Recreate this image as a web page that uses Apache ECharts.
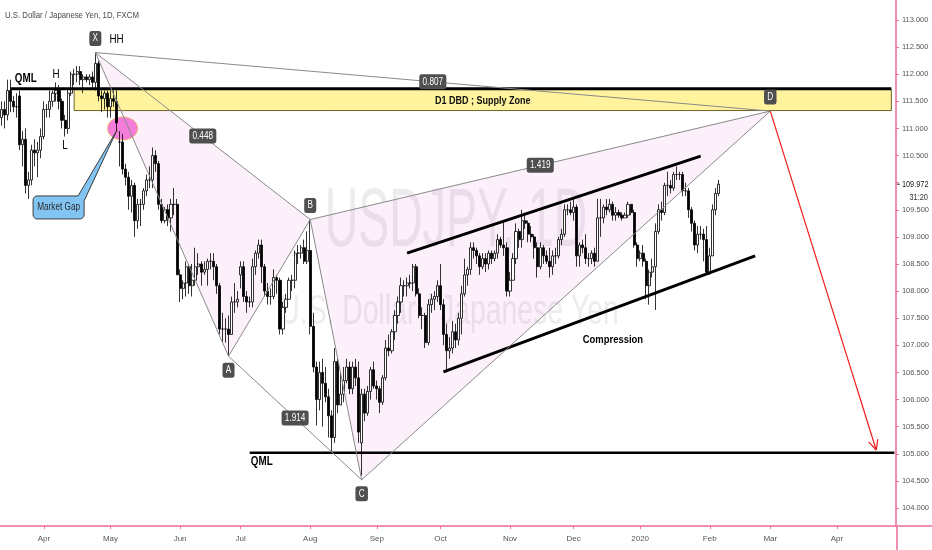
<!DOCTYPE html>
<html><head><meta charset="utf-8">
<title>USDJPY 1D - D1 DBD Supply Zone</title>
<script src="https://cdn.jsdelivr.net/npm/echarts@6/dist/echarts.min.js"></script>
<style>
  html, body { margin: 0; padding: 0; background: #fff; }
  #chart { width: 932px; height: 550px; }
</style>
</head>
<body>
<div id="chart"></div>
<script>
var FONT = "'Liberation Sans', Arial, sans-serif";
var PINK = '#ee6a9c';
var SQUEEZE = 0.82; // the screenshot text is condensed

// trading days start here, the axis runs on into the future
var firstDay = '2019-03-12';
var dayCount = 296;
var monthNames = ['Jan','Feb','Mar','Apr','May','Jun','Jul','Aug','Sep','Oct','Nov','Dec'];

// daily candles [open, close, low, high], one per weekday from firstDay
var candles = [
  [111.20,111.35,111.05,111.50],[111.35,111.25,111.00,111.50],[111.25,111.70,111.15,111.90],[111.70,111.50,111.30,111.90],
  [111.50,111.40,111.30,111.60],[111.40,111.40,111.20,111.65],[111.60,110.70,110.60,111.70],[110.70,110.80,110.30,110.95],
  [110.80,109.95,109.80,111.00],[109.95,110.05,109.70,110.20],[110.05,110.60,109.95,110.70],[110.60,110.55,110.30,110.80],
  [110.55,110.60,110.10,110.75],[110.60,110.85,110.45,111.00],
  // Apr
  [110.85,111.35,110.80,111.50],[111.35,111.35,111.20,111.45],[111.35,111.50,111.20,111.70],[111.50,111.65,111.40,111.70],
  [111.65,111.70,111.50,111.85],[111.70,111.50,111.35,111.80],[111.50,111.15,111.00,111.55],[111.15,111.00,110.85,111.25],
  [111.00,111.65,110.90,111.75],[111.65,112.00,111.60,112.05],[112.00,112.00,111.80,112.10],[112.00,112.05,111.85,112.15],
  [112.05,111.90,111.80,112.15],[111.90,111.95,111.65,112.00],[111.95,111.90,111.85,112.00],[111.90,111.95,111.80,112.00],
  [111.95,111.85,111.75,112.05],[111.85,112.20,111.70,112.40],[112.20,111.60,111.50,112.25],[111.60,111.55,111.30,111.70],
  [111.55,111.65,111.35,111.70],[111.65,111.40,111.20,111.70],
  // May
  [111.40,111.55,111.20,111.70],[111.55,111.50,111.40,111.70],[111.50,111.10,110.95,111.70],[110.75,110.75,110.30,110.95],
  [110.75,110.25,110.15,110.90],[110.25,110.10,109.95,110.35],[110.10,109.75,109.50,110.20],[109.75,109.95,109.45,110.05],
  [109.95,109.30,109.00,110.00],[109.30,109.60,109.15,109.70],[109.60,109.60,109.20,109.70],[109.60,109.85,109.50,109.90],
  [109.85,110.05,109.75,110.15],[110.05,110.05,109.90,110.30],[110.05,110.50,109.90,110.65],[110.50,110.35,110.20,110.60],
  [110.35,109.60,109.50,110.40],[109.60,109.30,109.25,109.70],[109.30,109.50,109.25,109.55],[109.50,109.35,109.20,109.60],
  [109.35,109.60,109.10,109.70],[109.60,109.60,109.40,109.90],[109.60,108.30,108.30,109.70],
  // Jun
  [108.30,108.05,107.80,108.40],[108.05,108.15,107.85,108.20],[108.15,108.45,107.90,108.55],[108.45,108.10,107.95,108.50],
  [108.10,108.20,107.90,108.50],[108.20,108.45,108.10,108.80],[108.45,108.50,108.30,108.70],[108.50,108.35,108.10,108.55],
  [108.35,108.40,108.30,108.55],[108.40,108.55,108.10,108.60],[108.55,108.55,108.40,108.70],[108.55,108.45,108.20,108.70],
  [108.45,108.10,107.95,108.50],[108.10,107.30,107.20,108.15],[107.30,107.30,107.05,107.60],[107.30,107.30,107.05,107.50],
  [107.30,107.20,106.80,107.55],[107.20,107.80,107.20,107.90],[107.80,107.80,107.60,108.15],[107.80,107.85,107.70,108.00],
  // Jul
  [108.30,108.45,108.05,108.55],[108.45,107.90,107.80,108.55],[107.90,107.80,107.60,108.00],[107.80,107.80,107.70,107.90],
  [107.80,108.45,107.70,108.60],[108.45,108.70,108.30,108.75],[108.70,108.85,108.60,108.95],[108.85,108.45,108.15,108.95],
  [108.45,108.00,107.90,108.50],[108.00,107.90,107.75,108.15],[107.90,107.90,107.75,108.05],[107.90,108.25,107.85,108.40],
  [108.25,108.20,107.95,108.30],[108.20,107.30,107.20,108.25],[107.30,107.70,107.20,107.80],[107.70,107.85,107.60,107.95],
  [107.85,108.20,107.85,108.25],[108.20,108.20,108.00,108.30],[108.20,108.70,108.05,108.75],[108.70,108.70,108.50,108.85],
  [108.70,108.80,108.60,108.85],[108.80,108.55,108.50,108.95],[108.55,108.75,108.50,109.10],
  // Aug
  [108.75,107.35,107.20,109.32],[107.35,106.60,106.50,107.60],[106.60,106.00,105.52,106.70],[106.00,106.50,105.80,106.70],
  [106.50,106.30,105.50,106.75],[106.30,106.05,105.95,106.60],[106.05,105.70,105.30,106.20],[105.70,105.30,105.05,105.80],
  [105.30,106.70,105.20,106.95],[106.70,105.90,105.75,106.75],[105.90,106.10,105.90,106.50],[106.10,106.35,105.95,106.60],
  [106.35,106.60,106.30,106.75],[106.60,106.20,106.10,106.70],[106.20,106.60,106.10,106.70],[106.60,106.40,106.25,106.75],
  [106.40,105.40,105.20,106.70],[105.20,106.10,104.60,106.20],[106.10,105.75,105.60,106.20],[105.75,106.15,105.70,106.25],
  [106.15,106.55,106.00,106.60],[106.55,106.25,106.20,106.70],
  // Sep
  [106.25,106.20,106.00,106.35],[106.20,105.95,105.75,106.25],[105.95,106.40,105.90,106.45],[106.40,106.95,106.35,107.10],
  [106.95,106.90,106.80,107.20],[106.90,107.25,106.85,107.30],[107.25,107.55,107.10,107.65],[107.55,107.80,107.40,107.90],
  [107.80,108.10,107.60,108.25],[108.10,108.10,107.90,108.20],[108.10,108.15,107.90,108.25],[108.15,108.15,108.05,108.30],
  [108.15,108.45,108.00,108.50],[108.45,107.95,107.90,108.50],[107.95,107.55,107.50,108.05],[107.55,107.55,107.30,107.70],
  [107.55,107.05,106.95,107.60],[107.05,107.75,107.00,107.85],[107.75,107.85,107.60,107.95],[107.85,107.90,107.65,108.00],
  [107.90,108.10,107.80,108.20],
  // Oct
  [108.10,107.75,107.65,108.50],[107.75,107.20,107.00,107.85],[107.20,106.90,106.50,107.40],[106.90,106.95,106.75,107.15],
  [106.95,107.25,106.85,107.45],[107.25,107.10,106.95,107.40],[107.10,107.50,107.00,107.60],[107.50,107.95,107.20,108.10],
  [107.95,108.30,107.90,108.60],[108.30,108.40,108.10,108.45],[108.40,108.80,108.30,108.90],[108.80,108.75,108.60,108.90],
  [108.75,108.65,108.50,108.80],[108.65,108.45,108.30,108.70],[108.45,108.60,108.40,108.70],[108.60,108.50,108.35,108.70],
  [108.50,108.70,108.40,108.75],[108.70,108.60,108.50,108.75],[108.60,108.70,108.55,108.75],[108.70,108.95,108.60,109.05],
  [108.95,108.85,108.80,109.00],[108.85,108.80,108.65,109.30],[108.80,108.00,107.90,108.90],
  // Nov
  [108.00,108.20,107.90,108.35],[108.20,108.60,108.20,108.70],[108.60,109.10,108.50,109.25],[109.10,108.95,108.80,109.15],
  [108.95,109.30,108.80,109.50],[109.30,109.25,109.15,109.45],[109.25,109.05,108.90,109.30],[109.05,109.00,108.90,109.20],
  [109.00,108.80,108.60,109.05],[108.80,108.45,108.25,108.90],[108.45,108.80,108.40,108.90],[108.80,108.65,108.50,108.85],
  [108.65,108.55,108.50,108.75],[108.55,108.45,108.25,108.80],[108.45,108.65,108.30,108.75],[108.65,108.65,108.50,108.80],
  [108.65,108.95,108.60,109.00],[108.95,109.05,108.85,109.15],[109.05,109.50,109.00,109.60],[109.50,109.50,109.40,109.60],
  [109.50,109.45,109.40,109.65],
  // Dec
  [109.45,109.55,109.30,109.70],[109.55,108.65,108.45,109.60],[108.65,108.85,108.45,108.90],[108.85,108.80,108.70,108.95],
  [108.80,108.60,108.50,109.05],[108.60,108.60,108.45,108.70],[108.60,108.70,108.50,108.75],[108.70,108.55,108.45,108.80],
  [108.55,109.35,108.55,109.70],[109.35,109.35,109.00,109.70],[109.35,109.55,109.25,109.60],[109.55,109.50,109.40,109.70],
  [109.50,109.60,109.45,109.70],[109.60,109.40,109.30,109.65],[109.40,109.45,109.30,109.55],[109.45,109.40,109.35,109.50],
  [109.40,109.35,109.30,109.45],[109.35,109.40,109.35,109.45],[109.40,109.60,109.35,109.65],[109.60,109.45,109.40,109.60],
  [109.45,108.85,108.80,109.50],[108.85,108.60,108.45,108.90],
  // Jan 2020
  [108.60,108.70,108.55,108.75],[108.70,108.55,108.45,108.85],[108.55,108.10,107.85,108.60],[108.10,108.35,107.75,108.40],
  [108.35,108.45,108.25,108.60],[108.45,109.10,107.65,109.25],[109.10,109.50,109.05,109.60],[109.50,109.45,109.30,109.65],
  [109.45,109.95,109.40,110.00],[109.95,109.95,109.75,110.20],[109.95,109.90,109.80,110.05],[109.90,110.15,109.85,110.20],
  [110.15,110.15,110.05,110.30],[110.15,110.15,110.05,110.20],[110.15,109.85,109.75,110.20],[109.85,109.85,109.75,110.00],
  [109.85,109.50,109.35,109.90],[109.50,109.25,109.10,109.55],[109.25,108.85,108.75,109.30],[108.85,109.05,108.70,109.20],
  [109.05,109.05,108.95,109.20],[109.05,108.95,108.55,109.15],[108.95,108.35,108.30,109.20],
  // Feb 2020
  [108.35,108.65,108.30,108.80],[108.65,109.50,108.65,109.60],[109.50,109.80,109.40,109.90],[109.80,109.972,109.75,110.05]
];

// right price scale
var priceTicks = [104.0,104.5,105.0,105.5,106.0,106.5,107.0,107.5,108.0,108.5,109.0,109.5,110.0,110.5,111.0,111.5,112.0,112.5,113.0];
var priceMin = 103.668, priceMax = 113.369;
var lastPrice = 109.972, barTimer = '31:20';

// XABCD pattern
var patternNames = ['X','A','B','C','D'];
var patternDays = ['2019-04-24','2019-06-25','2019-08-01','2019-08-26','2020-03-02'];
var patternPrices = [112.40, 106.80, 109.32, 104.52, 111.32];
var patternSides = [-1, 1, -1, 1, -1];
var ratioLegs = [[0,2],[1,3],[2,4],[0,4]];
var ratioTexts = ['0.448','1.914','1.419','0.807'];

// supply zone and QML levels
var zoneDays = ['2019-04-15','2020-04-27'];
var zonePrices = [111.72, 111.33];
var zoneText = 'D1 DBD ; Supply Zone';
var qmlDays = [['2019-03-15','2020-04-27'],['2019-07-04','2020-04-28']];
var qmlPrices = [[111.73,111.73],[105.02,105.02]];

// compression channel
var channelDays = [['2019-09-16','2020-01-29'],['2019-10-02','2020-02-24']];
var channelPrices = [[108.70,110.49],[106.51,108.65]];

// projected move
var targetDays = ['2020-03-02','2020-04-20'];
var targetPrices = [111.32, 105.07];

// market gap marker
var gapDay = '2019-05-07', gapPrice = 111.00, gapText = 'Market Gap';

// loose text notes
var noteTexts = ['QML','H','L','HH','QML','Compression'];
var noteDays = ['2019-03-22','2019-04-05','2019-04-10','2019-05-03','2019-07-10','2019-12-19'];
var notePrices = [111.91, 111.99, 110.69, 112.63, 104.85, 107.10];
var noteFonts = {'QML': 'bold 12px', 'H': '12px', 'L': '12px', 'HH': '12px', 'Compression': 'bold 11.5px'};

// ---- weekday categories
var days = [];
(function () {
  var d = new Date(firstDay + 'T00:00:00Z');
  while (days.length < dayCount) {
    var w = d.getUTCDay();
    if (w > 0 && w < 6) days.push(d.toISOString().slice(0, 10));
    d.setUTCDate(d.getUTCDate() + 1);
  }
})();
function dayIndex(s) { return days.indexOf(s); }
function isMonthStart(i) { return i > 0 && days[i].slice(0, 7) !== days[i - 1].slice(0, 7); }

function text(x, y, str, font, color, extra) {
  var st = { text: str, font: font + ' ' + FONT, fill: color, align: 'center', verticalAlign: 'middle' };
  for (var k in extra) st[k] = extra[k];
  return { type: 'text', x: x, y: y, scaleX: SQUEEZE, style: st };
}
function boxLabel(x, y, str) {
  return text(x, y, str, '10px', '#ffffff',
    { backgroundColor: '#4f4f4f', padding: [3, 4, 2, 4], borderRadius: 3 });
}

function renderUnder(params, api) {
  var kids = [];
  var pts = patternDays.map(function (d, i) { return api.coord([dayIndex(d), patternPrices[i]]); });
  [[0, 1, 2], [2, 3, 4]].forEach(function (t) {
    kids.push({ type: 'polygon', shape: { points: t.map(function (k) { return pts[k]; }) },
      style: { fill: 'rgba(222,70,200,0.08)' } });
  });
  var a = api.coord([dayIndex(zoneDays[0]), zonePrices[0]]);
  var b = api.coord([dayIndex(zoneDays[1]), zonePrices[1]]);
  kids.push({ type: 'rect', shape: { x: a[0], y: a[1], width: b[0] - a[0], height: b[1] - a[1] },
    style: { fill: '#fff39d', stroke: '#6e6428', lineWidth: 1 } });
  var g = api.coord([dayIndex(gapDay), gapPrice]);
  kids.push({ type: 'ellipse', shape: { cx: g[0], cy: g[1], rx: 15, ry: 11.5 },
    style: { fill: '#f47ddc', stroke: '#eeb070', lineWidth: 1 } });
  return { type: 'group', children: kids };
}

function line(p, q, color, width) {
  return { type: 'line', shape: { x1: p[0], y1: p[1], x2: q[0], y2: q[1] },
    style: { stroke: color, lineWidth: width } };
}

function calloutPoints(g) {
  // rounded box below-left of the gap with a tail pointing to it
  var L = g[0] - 89.5, R = g[0] - 38.5, T = g[1] + 67.5, B = g[1] + 90.5, r = 4;
  var pts = [];
  function arc(cx, cy, a0, a1) {
    for (var k = 0; k <= 4; k++) {
      var t = a0 + (a1 - a0) * k / 4;
      pts.push([cx + r * Math.cos(t), cy + r * Math.sin(t)]);
    }
  }
  arc(L + r, T + r, Math.PI, Math.PI * 1.5);
  pts.push([g[0] - 44.5, T]);
  pts.push([g[0] - 5.5, g[1] + 1.5]);
  pts.push([R, T + 5]);
  arc(R - r, B - r, 0, Math.PI * 0.5);
  arc(L + r, B - r, Math.PI * 0.5, Math.PI);
  return pts;
}

function renderOver(params, api) {
  var kids = [];
  function at(d, p) { return api.coord([dayIndex(d), p]); }

  qmlDays.forEach(function (d, i) {
    kids.push(line(at(d[0], qmlPrices[i][0]), at(d[1], qmlPrices[i][1]), '#000', i === 0 ? 3 : 2.5));
  });
  channelDays.forEach(function (d, i) {
    kids.push(line(at(d[0], channelPrices[i][0]), at(d[1], channelPrices[i][1]), '#000', 3));
  });

  var pts = patternDays.map(function (d, i) { return at(d, patternPrices[i]); });
  for (var i = 0; i < pts.length - 1; i++) kids.push(line(pts[i], pts[i + 1], '#8a8a8a', 1));
  ratioLegs.forEach(function (l) { kids.push(line(pts[l[0]], pts[l[1]], '#8a8a8a', 1)); });
  ratioLegs.forEach(function (l, k) {
    kids.push(boxLabel((pts[l[0]][0] + pts[l[1]][0]) / 2, (pts[l[0]][1] + pts[l[1]][1]) / 2, ratioTexts[k]));
  });
  pts.forEach(function (p, k) { kids.push(boxLabel(p[0], p[1] + patternSides[k] * 14, patternNames[k])); });

  // projected drop
  var s = at(targetDays[0], targetPrices[0]), e = at(targetDays[1], targetPrices[1]);
  kids.push(line(s, e, '#f01e1e', 1.2));
  var ang = Math.atan2(e[1] - s[1], e[0] - s[0]);
  [-0.45, 0.45].forEach(function (da) {
    kids.push(line(e, [e[0] - 11 * Math.cos(ang + da), e[1] - 11 * Math.sin(ang + da)], '#f01e1e', 1.2));
  });

  // zone caption
  var za = at(zoneDays[0], zonePrices[0]), zb = at(zoneDays[1], zonePrices[1]);
  kids.push(text((za[0] + zb[0]) / 2, (za[1] + zb[1]) / 2 + 0.5, zoneText, 'bold 11px', '#111'));

  // market gap callout
  var g = at(gapDay, gapPrice);
  kids.push({ type: 'polygon', shape: { points: calloutPoints(g) },
    style: { fill: '#82c5f3', stroke: '#3c3c3c', lineWidth: 1 } });
  kids.push(text(g[0] - 64, g[1] + 79, gapText, '10px', '#2b2b2b'));

  noteTexts.forEach(function (t, k) {
    var p = at(noteDays[k], notePrices[k]);
    kids.push(text(p[0], p[1], t, noteFonts[t], '#000'));
  });

  // last price on the scale
  var cs = params.coordSys;
  var lp = api.coord([0, lastPrice]);
  var ax = cs.x + cs.width;
  kids.push(line([ax + 1, lp[1]], [ax + 4, lp[1]], '#333', 1));
  kids.push({ type: 'text', x: ax + 6, y: lp[1], scaleX: SQUEEZE,
    style: { text: lastPrice.toFixed(3), font: '9px ' + FONT, fill: '#1a1a1a', align: 'left', verticalAlign: 'middle',
      backgroundColor: '#fff', padding: [1, 1, 1, 0] } });
  kids.push({ type: 'text', x: ax + 32, y: lp[1] + 13, scaleX: SQUEEZE,
    style: { text: barTimer, font: '9px ' + FONT, fill: '#333', align: 'right', verticalAlign: 'middle',
      backgroundColor: 'rgba(255,255,255,0.7)', padding: [0, 0, 0, 0] } });
  return { type: 'group', children: kids };
}

var chart = echarts.init(document.getElementById('chart'));
chart.setOption({
  animation: false,
  backgroundColor: '#ffffff',
  grid: { left: 0, right: 35, top: 0, bottom: 24 },
  graphic: [
    { type: 'text', x: 5, y: 15, z: 10, scaleX: SQUEEZE,
      style: { text: 'U.S. Dollar / Japanese Yen, 1D, FXCM', font: '9.5px ' + FONT, fill: '#4a4a4a', verticalAlign: 'middle' } },
    { type: 'text', x: 456, y: 223, scaleX: 0.56, z: 0,
      style: { text: 'USDJPY, 1D', font: '83px ' + FONT, fill: 'rgba(140,130,150,0.16)', align: 'center', verticalAlign: 'middle' } },
    { type: 'text', x: 449, y: 312, scaleX: 0.675, z: 0,
      style: { text: 'U.S. Dollar / Japanese Yen', font: '42px ' + FONT, fill: 'rgba(140,130,150,0.16)', align: 'center', verticalAlign: 'middle' } },
    { type: 'line', z: 10, shape: { x1: 897, y1: 526, x2: 932, y2: 526 }, style: { stroke: PINK, lineWidth: 1.5 } },
    { type: 'line', z: 10, shape: { x1: 897, y1: 526, x2: 897, y2: 550 }, style: { stroke: PINK, lineWidth: 1.5 } }
  ],
  xAxis: {
    type: 'category',
    data: days,
    boundaryGap: true,
    axisLine: { show: true, lineStyle: { color: PINK, width: 1.5 } },
    axisTick: { show: true, alignWithLabel: true, length: 3, lineStyle: { color: PINK },
      interval: function (i) { return isMonthStart(i); } },
    axisLabel: {
      interval: function (i) { return isMonthStart(i); },
      formatter: function (v) {
        var m = +v.slice(5, 7);
        return m === 1 ? v.slice(0, 4) : monthNames[m - 1];
      },
      fontFamily: FONT, fontSize: 8, color: '#555', margin: 9
    },
    splitLine: { show: false }
  },
  yAxis: {
    type: 'value',
    position: 'right',
    min: priceMin, max: priceMax,
    axisLine: { show: true, lineStyle: { color: PINK, width: 1.5 } },
    axisTick: { show: true, length: 3, lineStyle: { color: PINK }, customValues: priceTicks },
    axisLabel: { customValues: priceTicks, formatter: function (v) { return v.toFixed(3); },
      fontFamily: FONT, fontSize: 7.5, color: '#555', margin: 6 },
    splitLine: { show: false }
  },
  series: [
    { type: 'custom', name: 'fills', z: 1, silent: true, renderItem: renderUnder, data: [[0, priceMin]] },
    {
      type: 'candlestick', name: 'USDJPY', z: 2,
      data: candles,
      barWidth: 2.6,
      itemStyle: { color: '#ffffff', color0: '#000000', borderColor: '#000000', borderColor0: '#000000', borderWidth: 0.8 }
    },
    { type: 'custom', name: 'drawings', z: 3, silent: true, renderItem: renderOver, data: [[0, priceMin]] }
  ]
});
</script>
</body></html>
